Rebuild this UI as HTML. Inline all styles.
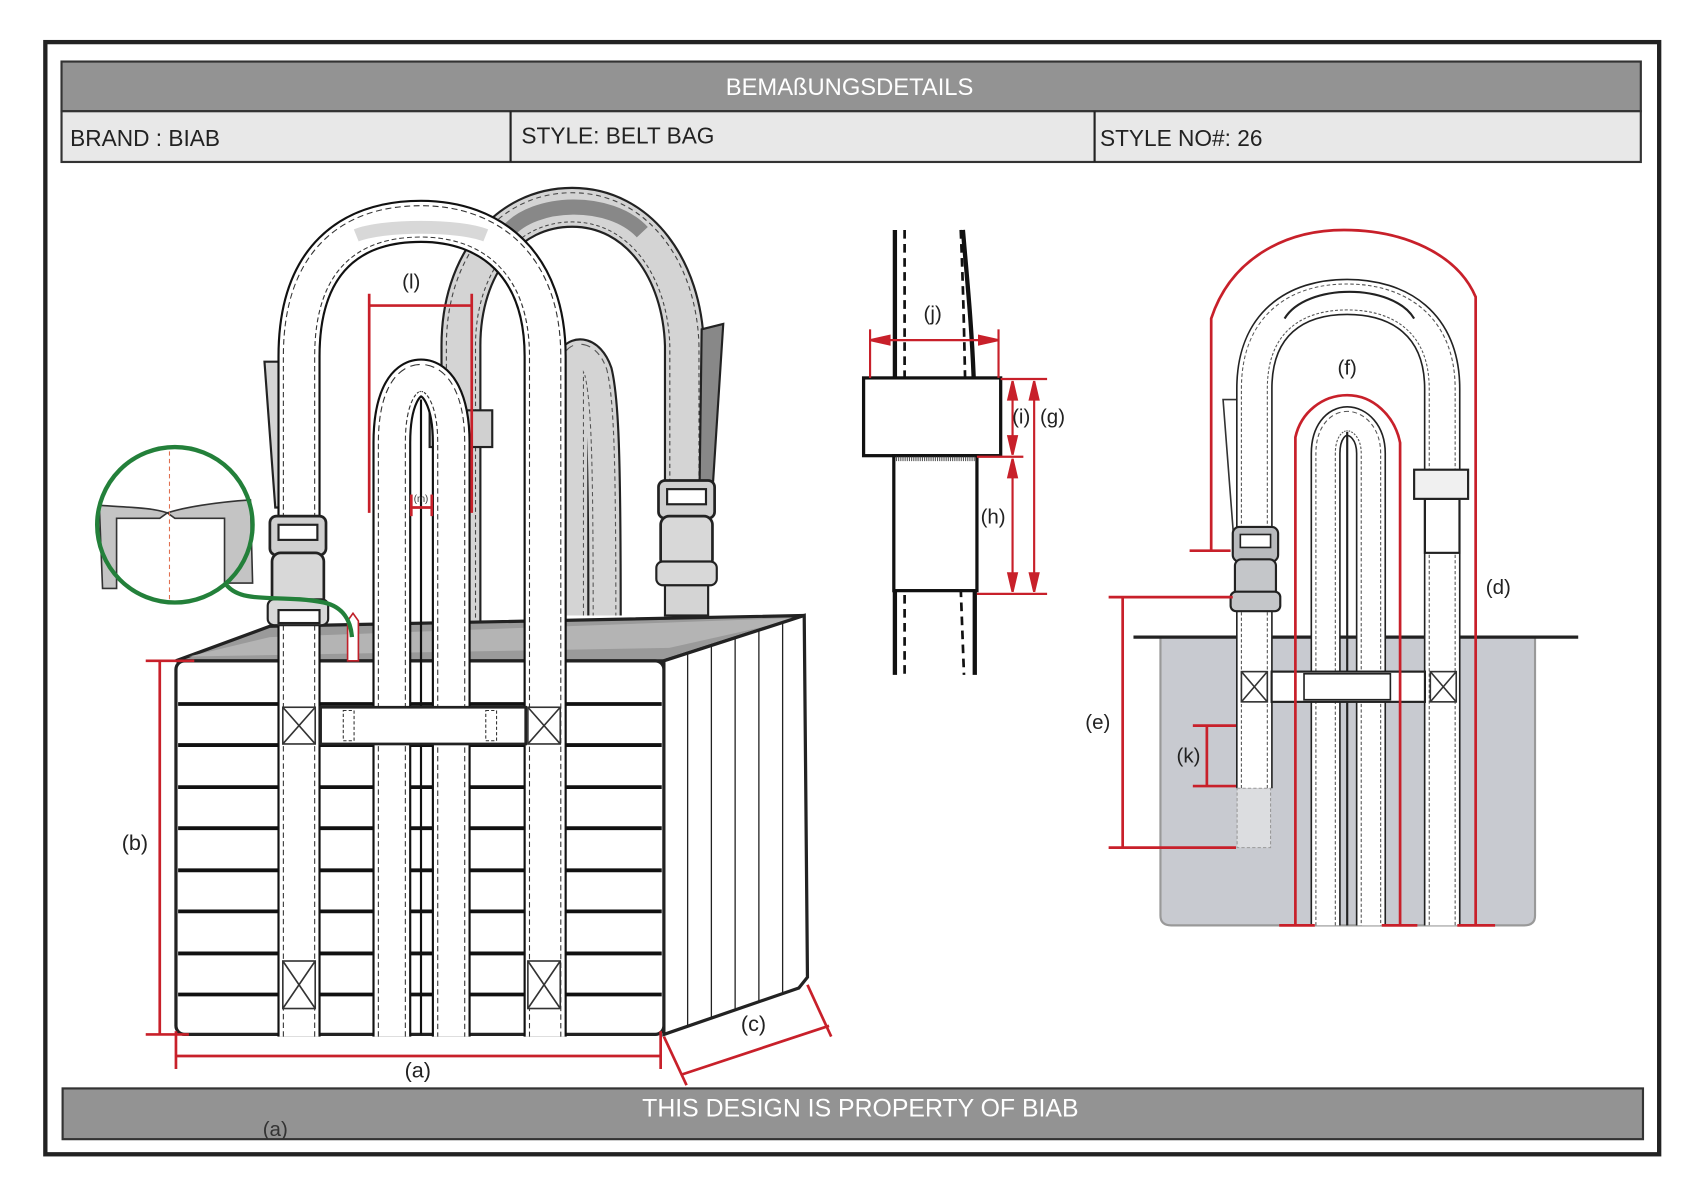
<!DOCTYPE html>
<html><head><meta charset="utf-8"><style>
html,body{margin:0;padding:0;background:#fff;}
svg{display:block;}
text{font-family:"Liberation Sans",sans-serif;}
</style></head><body>
<svg width="1684" height="1191" viewBox="0 0 1560 1103" preserveAspectRatio="none" xmlns="http://www.w3.org/2000/svg">
<defs>
<path id="sL" d="M277 960 L277 330 C277 240 325 205 390 205 C455 205 505 245 505 330 L505 960"/>
<path id="sB" d="M427 600 L427 320 C427 245 470 192 530 192 C592 192 632 250 634 320 L634 460"/>
<path id="sI" d="M363 960 L363 410 C363 370 375 350 390 350 C405 350 418 370 418 410 L418 960"/>
<path id="sS" d="M530 570 L530 340 C530 325 545 325 552 345 C558 370 560 420 560 570"/>
<path id="rL" d="M1162 730 L1162 360 C1162 300 1200 275 1248 275 C1296 275 1336 300 1336 360 L1336 857"/>
<path id="rI" d="M1228 857 L1228 420 C1228 400 1238 390 1248 390 C1258 390 1270 400 1270 420 L1270 857"/>
</defs>
<rect width="1560" height="1103" fill="#fff"/>
<rect x="42" y="39" width="1495" height="1030" fill="none" stroke="#222" stroke-width="4"/>
<rect x="57" y="57" width="1463" height="46" fill="#939393" stroke="#333" stroke-width="2"/>
<text x="787" y="88" font-size="22" fill="#fff" text-anchor="middle">BEMAßUNGSDETAILS</text>
<rect x="57" y="103" width="1463" height="47" fill="#e8e8e8" stroke="#333" stroke-width="2"/>
<line x1="473" y1="103" x2="473" y2="150" stroke="#222" stroke-width="2"/>
<line x1="1014" y1="103" x2="1014" y2="150" stroke="#222" stroke-width="2"/>
<text x="65" y="135" font-size="21" fill="#222">BRAND :  BIAB</text>
<text x="483" y="133" font-size="21" fill="#222">STYLE: BELT BAG</text>
<text x="1019" y="135" font-size="21" fill="#222">STYLE NO#: 26</text>
<rect x="58" y="1008" width="1464" height="47" fill="#939393" stroke="#333" stroke-width="2"/>
<text x="797" y="1034" font-size="23" fill="#fff" text-anchor="middle">THIS DESIGN IS PROPERTY OF BIAB</text>
<text x="255" y="1052" font-size="19" fill="#333" text-anchor="middle">(a)</text>

<g fill="none">
<use href="#sB" stroke="#222" stroke-width="38"/>
<use href="#sB" stroke="#d4d4d4" stroke-width="34"/>
<use href="#sB" stroke="#444" stroke-width="28" stroke-dasharray="4 3"/>
<use href="#sB" stroke="#d4d4d4" stroke-width="26"/>
<use href="#sS" stroke="#222" stroke-width="32"/>
<use href="#sS" stroke="#d4d4d4" stroke-width="28"/>
<use href="#sS" stroke="#555" stroke-width="22" stroke-dasharray="4 3"/>
<use href="#sS" stroke="#d4d4d4" stroke-width="20"/>
</g>
<path d="M470 215 C495 185 565 183 595 215" stroke="#888" stroke-width="14" fill="none"/>
<polygon points="650,305 670,300 660,455 648,455" fill="#888" stroke="#222" stroke-width="2"/>
<polygon points="245,335 262,335 268,470 255,470" fill="#d4d4d4" stroke="#222" stroke-width="2"/>
<rect x="398" y="380" width="58" height="34" fill="#d0d0d0" stroke="#222" stroke-width="2"/>

<rect x="616" y="500" width="40" height="70" fill="#d4d4d4" stroke="#222" stroke-width="2"/>
<rect x="610" y="445" width="52" height="35" rx="6" fill="#cfcfcf" stroke="#222" stroke-width="2.5"/>
<rect x="618" y="453" width="36" height="14" fill="#fff" stroke="#222" stroke-width="2"/>
<rect x="612" y="478" width="48" height="48" rx="8" fill="#d8d8d8" stroke="#222" stroke-width="2.5"/>
<rect x="608" y="520" width="56" height="22" rx="6" fill="#d8d8d8" stroke="#222" stroke-width="2"/>

<polygon points="163,612 250,580 745,570 615,612" fill="#9a9a9a" stroke="#222" stroke-width="3"/>
<polygon points="250,590 745,572 620,600 175,608" fill="#b4b4b4"/>
<polygon points="615,612 745,570 748,905 740,915 615,958" fill="#fff" stroke="#222" stroke-width="3"/>
<g stroke="#222" stroke-width="1.2">
<line x1="637" y1="605" x2="637" y2="950"/><line x1="659" y1="598" x2="659" y2="943"/>
<line x1="681" y1="591" x2="681" y2="935"/><line x1="703" y1="584" x2="703" y2="928"/>
<line x1="725" y1="577" x2="725" y2="920"/>
</g>
<rect x="163" y="612" width="452" height="346" rx="8" fill="#fff" stroke="#222" stroke-width="3"/>
<g stroke="#111" stroke-width="3.5">
<line x1="165" y1="652" x2="613" y2="652"/><line x1="165" y1="690" x2="613" y2="690"/>
<line x1="165" y1="729" x2="613" y2="729"/><line x1="165" y1="767" x2="613" y2="767"/>
<line x1="165" y1="806" x2="613" y2="806"/><line x1="165" y1="844" x2="613" y2="844"/>
<line x1="165" y1="883" x2="613" y2="883"/><line x1="165" y1="921" x2="613" y2="921"/>
</g>

<g fill="none">
<use href="#sL" stroke="#111" stroke-width="40"/>
<use href="#sL" stroke="#fff" stroke-width="36"/>
<use href="#sL" stroke="#333" stroke-width="30" stroke-dasharray="5 3"/>
<use href="#sL" stroke="#fff" stroke-width="28"/>
<use href="#sI" stroke="#111" stroke-width="36"/>
<use href="#sI" stroke="#fff" stroke-width="32"/>
<use href="#sI" stroke="#333" stroke-width="26" stroke-dasharray="5 3"/>
<use href="#sI" stroke="#fff" stroke-width="24"/>
</g>
<path d="M330 218 C355 208 425 208 450 218" stroke="#d8d8d8" stroke-width="12" fill="none"/>
<line x1="390" y1="370" x2="390" y2="958" stroke="#111" stroke-width="2"/>

<rect x="250" y="478" width="52" height="36" rx="6" fill="#cfcfcf" stroke="#222" stroke-width="2.5"/>
<rect x="258" y="486" width="36" height="14" fill="#fff" stroke="#222" stroke-width="2"/>
<rect x="252" y="512" width="48" height="50" rx="8" fill="#d8d8d8" stroke="#222" stroke-width="2.5"/>
<rect x="248" y="555" width="56" height="24" rx="6" fill="#d8d8d8" stroke="#222" stroke-width="2"/>
<rect x="258" y="565" width="38" height="12" fill="#fff" stroke="#222" stroke-width="2"/>

<rect x="297" y="655" width="190" height="34" fill="#fff" stroke="#222" stroke-width="2.5"/>
<rect x="318" y="658" width="10" height="28" fill="none" stroke="#333" stroke-dasharray="3 2"/>
<rect x="450" y="658" width="10" height="28" fill="none" stroke="#333" stroke-dasharray="3 2"/>
<g fill="#fff" stroke="#333" stroke-width="1.5">
<rect x="262" y="655" width="30" height="34"/><path d="M262 655 L292 689 M292 655 L262 689"/>
<rect x="489" y="655" width="30" height="34"/><path d="M489 655 L519 689 M519 655 L489 689"/>
<rect x="262" y="890" width="30" height="44"/><path d="M262 890 L292 934 M292 890 L262 934"/>
<rect x="489" y="890" width="30" height="44"/><path d="M489 890 L519 934 M519 890 L489 934"/>
</g>

<polygon points="322,612 322,575 327,568 332,575 332,612" fill="#fff" stroke="#c0202a" stroke-width="1.5"/>
<circle cx="162" cy="486" r="72" fill="#fff"/>
<path d="M92 468 C120 470 140 470 155 475 C170 470 200 465 232 463 L234 540 L208 540 L208 480 L162 480 L155 475 L148 480 L108 480 L108 545 L95 545 Z" fill="#c4c4c4" stroke="#333" stroke-width="1.5"/>
<line x1="157" y1="418" x2="157" y2="556" stroke="#e07050" stroke-dasharray="4 3" stroke-width="1"/>
<circle cx="162" cy="486" r="72" fill="none" stroke="#23803a" stroke-width="4"/>
<path d="M210 542 C225 560 260 550 300 558 C318 562 325 575 326 590" fill="none" stroke="#23803a" stroke-width="4"/>

<g stroke="#c8202a" stroke-width="2.5" fill="none">
<line x1="342" y1="272" x2="342" y2="475"/><line x1="437" y1="272" x2="437" y2="475"/>
<line x1="342" y1="283" x2="437" y2="283"/>
<line x1="381" y1="458" x2="381" y2="478"/><line x1="400" y1="458" x2="400" y2="478"/>
<line x1="381" y1="470" x2="400" y2="470"/>
<line x1="148" y1="612" x2="148" y2="958"/><line x1="135" y1="612" x2="180" y2="612"/><line x1="135" y1="958" x2="175" y2="958"/>
<line x1="163" y1="978" x2="612" y2="978"/><line x1="163" y1="955" x2="163" y2="990"/><line x1="612" y1="955" x2="612" y2="990"/>
<line x1="632" y1="995" x2="768" y2="950"/><line x1="615" y1="960" x2="636" y2="1005"/><line x1="748" y1="912" x2="770" y2="960"/>
</g>
<text x="381" y="267" font-size="19" fill="#222" text-anchor="middle">(l)</text>
<text x="390" y="465" font-size="9" fill="#333" text-anchor="middle">(m)</text>
<text x="125" y="787" font-size="20" fill="#222" text-anchor="middle">(b)</text>
<text x="387" y="998" font-size="20" fill="#222" text-anchor="middle">(a)</text>
<text x="698" y="955" font-size="20" fill="#222" text-anchor="middle">(c)</text>

<g stroke="#111" fill="none">
<line x1="829" y1="213" x2="829" y2="625" stroke-width="4"/>
<line x1="838" y1="213" x2="838" y2="625" stroke-width="2.5" stroke-dasharray="8 5"/>
<path d="M890 213 C892 260 893 300 894 350" stroke-width="2.5" stroke-dasharray="8 5"/>
<path d="M890 545 L893 625" stroke-width="2.5" stroke-dasharray="8 5"/>
<path d="M892 213 C896 260 900 300 902 350" stroke-width="4"/>
<line x1="903" y1="545" x2="903" y2="625" stroke-width="4"/>
</g>
<rect x="800" y="350" width="127" height="72" fill="#fff" stroke="#111" stroke-width="3"/>
<rect x="828" y="422" width="77" height="125" fill="#fff" stroke="#111" stroke-width="3"/>
<line x1="830" y1="425" x2="903" y2="425" stroke="#555" stroke-width="4" stroke-dasharray="1 1"/>
<g stroke="#c8202a" stroke-width="2" fill="#c8202a">
<line x1="806" y1="305" x2="806" y2="350"/><line x1="925" y1="305" x2="925" y2="350"/>
<line x1="806" y1="315" x2="925" y2="315"/>
<polygon points="806,315 824,311 824,319"/><polygon points="925,315 907,311 907,319"/>
<line x1="927" y1="351" x2="970" y2="351"/><line x1="905" y1="423" x2="948" y2="423"/><line x1="905" y1="550" x2="970" y2="550"/>
<line x1="938" y1="353" x2="938" y2="421"/><line x1="958" y1="353" x2="958" y2="548"/><line x1="938" y1="425" x2="938" y2="548"/>
<polygon points="938,353 934,370 942,370"/><polygon points="938,421 934,404 942,404"/>
<polygon points="938,425 934,442 942,442"/><polygon points="938,548 934,531 942,531"/>
<polygon points="958,353 954,370 962,370"/><polygon points="958,548 954,531 962,531"/>
</g>
<text x="864" y="297" font-size="19" fill="#222" text-anchor="middle">(j)</text>
<text x="946" y="392" font-size="19" fill="#222" text-anchor="middle">(i)</text>
<text x="975" y="392" font-size="19" fill="#222" text-anchor="middle">(g)</text>
<text x="920" y="485" font-size="19" fill="#222" text-anchor="middle">(h)</text>

<path d="M1075 590 L1422 590 L1422 848 Q1422 857 1412 857 L1085 857 Q1075 857 1075 848 Z" fill="#c8cad0" stroke="#999" stroke-width="2"/>
<line x1="1050" y1="590" x2="1462" y2="590" stroke="#222" stroke-width="3"/>
<polygon points="1133,370 1150,370 1150,500 1143,500" fill="#fff" stroke="#333" stroke-width="1.5"/>
<g fill="none">
<use href="#rL" stroke="#222" stroke-width="34"/>
<use href="#rL" stroke="#fff" stroke-width="31"/>
<use href="#rL" stroke="#555" stroke-width="25" stroke-dasharray="3 2"/>
<use href="#rL" stroke="#fff" stroke-width="23"/>
<use href="#rI" stroke="#222" stroke-width="28"/>
<use href="#rI" stroke="#fff" stroke-width="25"/>
<use href="#rI" stroke="#555" stroke-width="19" stroke-dasharray="3 2"/>
<use href="#rI" stroke="#fff" stroke-width="17"/>
</g>
<path d="M1190 295 C1210 262 1290 262 1310 295" stroke="#222" stroke-width="2" fill="none"/>
<line x1="1248" y1="400" x2="1248" y2="857" stroke="#222" stroke-width="2"/>
<rect x="1146" y="730" width="31" height="55" fill="#dcdde0" stroke="#999" stroke-dasharray="3 2"/>
<rect x="1178" y="622" width="142" height="28" fill="#fff" stroke="#222" stroke-width="2"/>
<rect x="1208" y="624" width="80" height="24" fill="#fff" stroke="#222" stroke-width="1.5"/>
<g fill="#fff" stroke="#333" stroke-width="1.5">
<rect x="1150" y="622" width="24" height="28"/><path d="M1150 622 L1174 650 M1174 622 L1150 650"/>
<rect x="1325" y="622" width="24" height="28"/><path d="M1325 622 L1349 650 M1349 622 L1325 650"/>
</g>
<rect x="1320" y="462" width="32" height="50" fill="#fff" stroke="#222" stroke-width="2"/>
<rect x="1310" y="435" width="50" height="27" fill="#f0f0f0" stroke="#222" stroke-width="2"/>
<rect x="1142" y="488" width="42" height="32" rx="6" fill="#b8babd" stroke="#222" stroke-width="2"/>
<rect x="1149" y="495" width="28" height="12" fill="#fff" stroke="#222" stroke-width="1.5"/>
<rect x="1144" y="518" width="38" height="36" rx="6" fill="#c4c6c9" stroke="#222" stroke-width="2"/>
<rect x="1140" y="548" width="46" height="18" rx="5" fill="#c4c6c9" stroke="#222" stroke-width="2"/>
<g stroke="#c8202a" stroke-width="2.5" fill="none">
<path d="M1122 510 L1122 295 C1140 240 1190 213 1245 213 C1300 213 1350 235 1367 275 L1367 857"/>
<path d="M1200 857 L1200 405 C1205 382 1225 366 1248 366 C1272 366 1292 385 1297 410 L1297 857"/>
<line x1="1102" y1="510" x2="1140" y2="510"/>
<line x1="1185" y1="857" x2="1218" y2="857"/><line x1="1280" y1="857" x2="1313" y2="857"/><line x1="1350" y1="857" x2="1385" y2="857"/>
<line x1="1040" y1="553" x2="1040" y2="785"/><line x1="1027" y1="553" x2="1142" y2="553"/><line x1="1027" y1="785" x2="1145" y2="785"/>
<line x1="1118" y1="672" x2="1118" y2="728"/><line x1="1105" y1="672" x2="1145" y2="672"/><line x1="1105" y1="728" x2="1145" y2="728"/>
</g>
<text x="1248" y="347" font-size="19" fill="#222" text-anchor="middle">(f)</text>
<text x="1388" y="550" font-size="19" fill="#222" text-anchor="middle">(d)</text>
<text x="1017" y="675" font-size="19" fill="#222" text-anchor="middle">(e)</text>
<text x="1101" y="706" font-size="19" fill="#222" text-anchor="middle">(k)</text>
</svg>
</body></html>
